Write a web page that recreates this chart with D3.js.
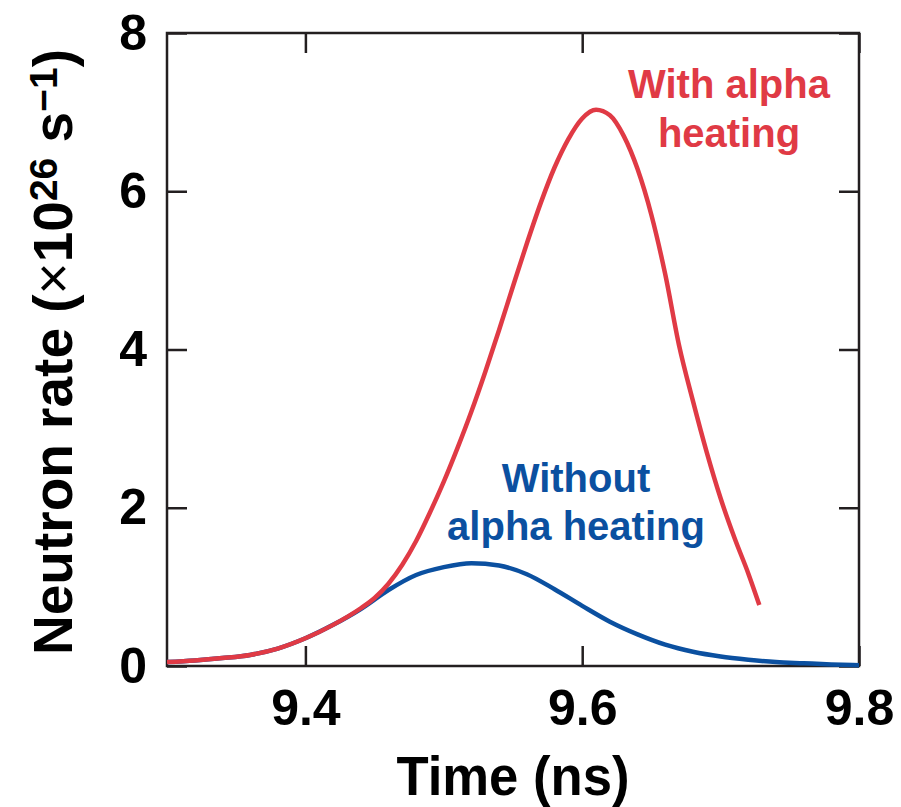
<!DOCTYPE html>
<html lang="en">
  <head>
    <meta charset="utf-8">
    <title>Neutron rate</title>
    <style>
      body { margin: 0; background: #fff; }
      svg { display: block; }
      text { font-family: "Liberation Sans", Arial, sans-serif; font-weight: bold; }
    </style>
    <script src="https://d3js.org/d3.v7.min.js"></script>
  </head>
  <body>
    <script>
    // without alpha heating
    const timeNoAlpha = [9.30, 9.32, 9.34, 9.36, 9.38, 9.40, 9.42, 9.44, 9.46, 9.48, 9.50, 9.52, 9.54,
      9.56, 9.58, 9.60, 9.62, 9.64, 9.66, 9.68, 9.70, 9.72, 9.74, 9.76, 9.78, 9.80];
    const rateNoAlpha = [0.05, 0.07, 0.10, 0.14, 0.22, 0.35, 0.52, 0.72, 0.96, 1.15, 1.25, 1.30, 1.27,
      1.16, 0.97, 0.76, 0.56, 0.40, 0.27, 0.18, 0.12, 0.08, 0.05, 0.035, 0.02, 0.01];

    // with alpha heating
    const timeAlpha = [9.30, 9.32, 9.34, 9.36, 9.38, 9.40, 9.42, 9.44, 9.45, 9.46, 9.47, 9.48, 9.49,
      9.50, 9.51, 9.52, 9.53, 9.54, 9.55, 9.56, 9.57, 9.58, 9.59, 9.60, 9.61, 9.62, 9.63, 9.64, 9.65,
      9.66, 9.67, 9.68, 9.69, 9.70, 9.71, 9.72, 9.728];
    const rateAlpha = [0.05, 0.07, 0.10, 0.14, 0.22, 0.35, 0.52, 0.73, 0.86, 1.04, 1.28, 1.58, 1.94,
      2.33, 2.76, 3.22, 3.72, 4.25, 4.80, 5.34, 5.85, 6.30, 6.66, 6.92, 7.03, 6.96, 6.70, 6.28, 5.70,
      4.95, 4.05, 3.35, 2.70, 2.12, 1.62, 1.17, 0.77];

    const xTicks = [9.4, 9.6, 9.8];
    const yTicks = [0, 2, 4, 6, 8];

    const W = 901, H = 807;
    const margin = { top: 33, left: 167, bottom: 141, right: 42 };
    const width = W - margin.left - margin.right,
      height = H - margin.top - margin.bottom;

    const axisColor = "#231f20",
      red = "#e03a45",
      blue = "#0b50a0";

    const svg = d3.select("body")
      .append("svg")
      .attr("width", W)
      .attr("height", H)
      .append("g")
      .attr("transform", `translate(${margin.left},${margin.top})`);

    const x = d3.scaleLinear().domain([9.3, 9.8]).range([0, width]);
    const y = d3.scaleLinear().domain([0, 8]).range([height, 0]);

    const styleAxis = g => {
      g.select(".domain").remove();
      g.selectAll(".tick line").attr("stroke", axisColor).attr("stroke-width", 2.5);
      g.selectAll(".tick text").attr("fill", "#000").style("font-size", "50px")
        .style("font-family", "'Liberation Sans', Arial, sans-serif").style("font-weight", "bold");
    };

    svg.append("g")
      .attr("transform", `translate(0,${height})`)
      .call(d3.axisBottom(x).tickValues(xTicks).tickSize(-20).tickPadding(23).tickFormat(d3.format(".1f")))
      .call(styleAxis);

    svg.append("g")
      .call(d3.axisTop(x).tickValues(xTicks).tickSize(-20).tickFormat(""))
      .call(styleAxis);

    svg.append("g")
      .call(d3.axisLeft(y).tickValues(yTicks).tickSize(-20).tickPadding(20))
      .call(styleAxis);

    svg.append("g")
      .attr("transform", `translate(${width},0)`)
      .call(d3.axisRight(y).tickValues(yTicks).tickSize(-20).tickFormat(""))
      .call(styleAxis);

    // frame
    svg.append("rect")
      .attr("x", 0).attr("y", 0)
      .attr("width", width).attr("height", height)
      .attr("fill", "none")
      .attr("stroke", axisColor)
      .attr("stroke-width", 2.5);

    const line = d3.line()
      .x(d => x(d[0]))
      .y(d => y(d[1]))
      .curve(d3.curveMonotoneX);

    svg.append("path")
      .datum(d3.zip(timeNoAlpha, rateNoAlpha))
      .attr("fill", "none")
      .attr("stroke", blue)
      .attr("stroke-width", 4.5)
      .attr("d", line);

    svg.append("path")
      .datum(d3.zip(timeAlpha, rateAlpha))
      .attr("fill", "none")
      .attr("stroke", red)
      .attr("stroke-width", 4.5)
      .attr("d", line);

    // annotations
    const redLabel = svg.append("text")
      .attr("text-anchor", "middle")
      .attr("fill", red)
      .style("font-size", "40px");
    redLabel.append("tspan").attr("x", 729 - margin.left).attr("y", 98 - margin.top).text("With alpha");
    redLabel.append("tspan").attr("x", 729 - margin.left).attr("y", 147 - margin.top).text("heating");

    const blueLabel = svg.append("text")
      .attr("text-anchor", "middle")
      .attr("fill", blue)
      .style("font-size", "40px");
    blueLabel.append("tspan").attr("x", 576 - margin.left).attr("y", 492 - margin.top).text("Without");
    blueLabel.append("tspan").attr("x", 576 - margin.left).attr("y", 540 - margin.top).text("alpha heating");

    // axis titles
    svg.append("text")
      .attr("x", width / 2)
      .attr("y", 795 - margin.top)
      .attr("text-anchor", "middle")
      .attr("textLength", 233)
      .attr("lengthAdjust", "spacingAndGlyphs")
      .style("font-size", "55px")
      .attr("fill", "#000")
      .text("Time (ns)");

    const yTitle = svg.append("text")
      .attr("transform", `translate(${72 - margin.left},${352 - margin.top}) rotate(-90)`)
      .attr("text-anchor", "middle")
      .style("font-size", "55px")
      .attr("fill", "#000");
    yTitle.append("tspan").text("Neutron rate (");
    yTitle.append("tspan").style("font-weight", "normal").text("×");
    yTitle.append("tspan").text("10");
    yTitle.append("tspan").attr("dy", -15).style("font-size", "39px").text("26");
    yTitle.append("tspan").attr("dy", 15).text(" s");
    yTitle.append("tspan").attr("dy", -15).style("font-size", "39px").text("−1");
    yTitle.append("tspan").attr("dy", 15).text(")");
    </script>
  </body>
</html>
